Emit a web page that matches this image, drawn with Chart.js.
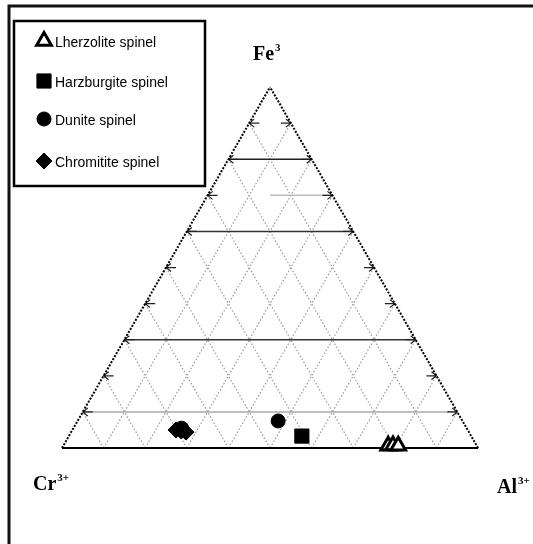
<!DOCTYPE html>
<html>
<head>
<meta charset="utf-8">
<script src="https://cdn.jsdelivr.net/npm/chart.js@4.4.1/dist/chart.umd.min.js"></script>
<style>
  html, body { margin: 0; padding: 0; background: #fff; }
</style>
</head>
<body>
<canvas id="ternaire" width="533" height="544"></canvas>
<script>
// compositions en fractions [Cr, Al, Fe]
const lherzolite = [[0.213, 0.781, 0.006], [0.201, 0.792, 0.007], [0.189, 0.805, 0.006]];
const harzburgite = [[0.407, 0.560, 0.033]];
const dunite = [[0.443, 0.482, 0.075], [0.685, 0.260, 0.055]];
const chromitite = [[0.701, 0.249, 0.050], [0.690, 0.263, 0.047], [0.680, 0.276, 0.044]];
const seriesNames = ['Lherzolite spinel', 'Harzburgite spinel', 'Dunite spinel', 'Chromitite spinel'];
const gridSteps = [0.1, 0.2, 0.3, 0.4, 0.5, 0.6, 0.7, 0.8, 0.9];
// lignes horizontales (Fe constant) tracées sur le diagramme
const feLines = [0.8, 0.7, 0.6, 0.3, 0.1];
const feLineStyle = {
    0.8: { col: '#222', from: 0, to: 1 },
    0.7: { col: '#bbb', from: 0.5, to: 1 },
    0.6: { col: '#333', from: 0, to: 1 },
    0.3: { col: '#333', from: 0, to: 1 },
    0.1: { col: '#aaa', from: 0, to: 1 }
};

const H = Math.sqrt(3) / 2;
function toXY(t) {
    const s = t[0] + t[1] + t[2];
    const al = t[1] / s, fe = t[2] / s;
    return { x: al + fe / 2, y: fe * H };
}

const framePlugin = {
    id: 'ternaryFrame',
    beforeDatasetsDraw(chart) {
        const ctx = chart.ctx;
        const sx = chart.scales.x, sy = chart.scales.y;
        const px = t => {
            const p = toXY(t);
            return [sx.getPixelForValue(p.x), sy.getPixelForValue(p.y)];
        };
        const seg = (a, b) => {
            const p = px(a), q = px(b);
            ctx.beginPath();
            ctx.moveTo(p[0], p[1]);
            ctx.lineTo(q[0], q[1]);
            ctx.stroke();
        };
        ctx.save();

        // cadre extérieur
        ctx.strokeStyle = '#111';
        ctx.lineWidth = 3;
        ctx.beginPath();
        ctx.moveTo(9, 544);
        ctx.lineTo(9, 6);
        ctx.lineTo(533, 6);
        ctx.stroke();

        // grille en pointillés
        ctx.strokeStyle = '#999';
        ctx.lineWidth = 1.2;
        ctx.setLineDash([1.5, 2]);
        gridSteps.forEach(k => {
            seg([k, 1 - k, 0], [k, 0, 1 - k]);
            seg([1 - k, k, 0], [0, k, 1 - k]);
        });

        // lignes Fe constant
        ctx.setLineDash([]);
        ctx.lineWidth = 1.5;
        feLines.forEach(f => {
            const st = feLineStyle[f];
            const w = 1 - f;
            ctx.strokeStyle = st.col;
            seg([w * (1 - st.from), w * st.from, f], [w * (1 - st.to), w * st.to, f]);
        });

        // petites flèches le long des côtés
        ctx.strokeStyle = '#222';
        ctx.lineWidth = 1.2;
        gridSteps.forEach(f => {
            const l = px([1 - f, 0, f]), r = px([0, 1 - f, f]);
            ctx.beginPath();
            ctx.moveTo(l[0] + 10, l[1]); ctx.lineTo(l[0], l[1]);
            ctx.moveTo(l[0] + 5, l[1] - 4); ctx.lineTo(l[0], l[1]); ctx.lineTo(l[0] + 5, l[1] + 4);
            ctx.moveTo(r[0] - 10, r[1]); ctx.lineTo(r[0], r[1]);
            ctx.moveTo(r[0] - 5, r[1] - 4); ctx.lineTo(r[0], r[1]); ctx.lineTo(r[0] - 5, r[1] + 4);
            ctx.stroke();
        });

        // côtés du triangle
        ctx.strokeStyle = '#000';
        ctx.lineWidth = 2;
        ctx.setLineDash([2, 1.5]);
        seg([1, 0, 0], [0, 0, 1]);
        seg([0, 1, 0], [0, 0, 1]);
        ctx.setLineDash([]);
        seg([1, 0, 0], [0, 1, 0]);

        // sommets
        ctx.fillStyle = '#000';
        ctx.textBaseline = 'alphabetic';
        const label = (main, sup, x, y) => {
            ctx.font = 'bold 20px "Liberation Serif", serif';
            ctx.fillText(main, x, y);
            const w = ctx.measureText(main).width;
            ctx.font = 'bold 11px "Liberation Serif", serif';
            ctx.fillText(sup, x + w + 1, y - 9);
        };
        label('Fe', '3', 253, 60);
        label('Cr', '3+', 33, 490);
        label('Al', '3+', 497, 493);

        // légende
        ctx.strokeStyle = '#000';
        ctx.lineWidth = 2.5;
        ctx.strokeRect(14, 21, 191, 165);
        ctx.font = '14px "Liberation Sans", sans-serif';
        ctx.textBaseline = 'middle';
        const styles = ['triangle', 'rect', 'circle', 'rectRot'];
        const rows = [41, 81, 119, 161];
        seriesNames.forEach((n, i) => {
            const ds = chart.data.datasets[i];
            ctx.fillStyle = ds.backgroundColor;
            ctx.strokeStyle = '#000';
            ctx.lineWidth = ds.borderWidth;
            Chart.helpers.drawPoint(ctx, { pointStyle: styles[i], radius: ds.pointRadius, borderWidth: ds.borderWidth }, 44, rows[i]);
            ctx.fillStyle = '#000';
            ctx.fillText(n, 55, rows[i] + 2);
        });
        ctx.restore();
    }
};

const makeSet = (label, pts, style, r, fill, bw) => ({
    label: label,
    data: pts.map(toXY),
    pointStyle: style,
    pointRadius: r,
    backgroundColor: fill,
    borderColor: '#000',
    borderWidth: bw,
    clip: false
});

new Chart(document.getElementById('ternaire'), {
    type: 'scatter',
    data: {
        datasets: [
            makeSet(seriesNames[0], lherzolite, 'triangle', 8.5, '#fff', 3),
            makeSet(seriesNames[1], harzburgite, 'rect', 10, '#000', 1),
            makeSet(seriesNames[2], dunite, 'circle', 7, '#000', 1),
            makeSet(seriesNames[3], chromitite, 'rectRot', 8, '#000', 1)
        ]
    },
    options: {
        responsive: false,
        animation: false,
        devicePixelRatio: 1,
        layout: { padding: 0, autoPadding: false },
        scales: {
            x: { type: 'linear', display: false, min: -0.149, max: 1.132 },
            y: { type: 'linear', display: false, min: -0.2303, max: 1.0749 }
        },
        plugins: {
            legend: { display: false },
            tooltip: { enabled: false }
        }
    },
    plugins: [framePlugin]
});
</script>
</body>
</html>
